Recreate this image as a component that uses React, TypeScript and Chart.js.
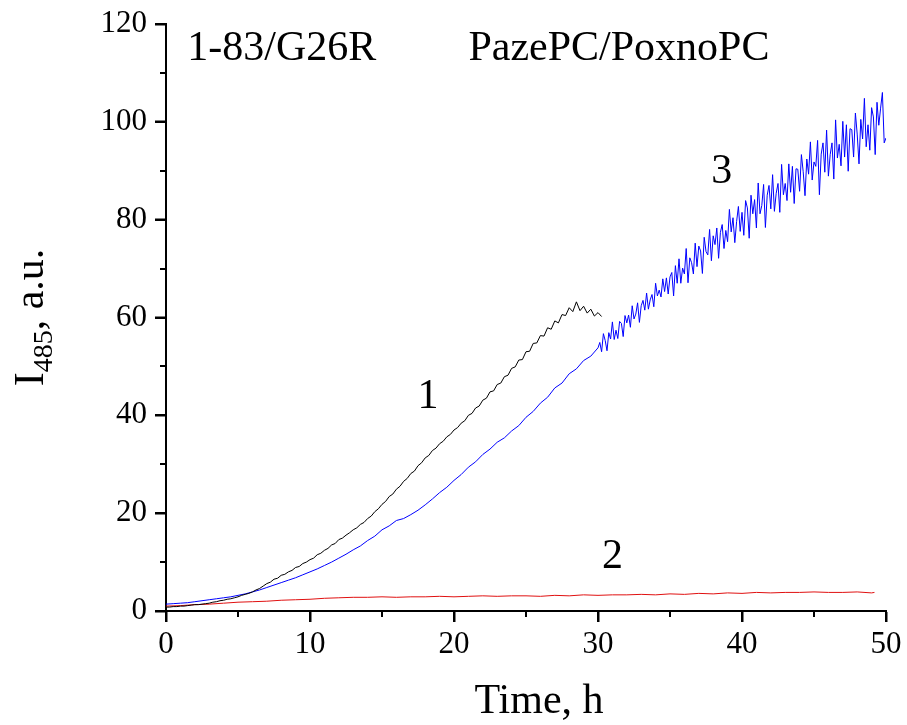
import React, { useEffect, useRef } from "react";
import { Chart, registerables } from "chart.js";

Chart.register(...registerables);

// Curve 1 (black)
const time1 = [
  0, 0.25, 0.5, 0.75, 1, 1.25, 1.5, 1.75, 2, 2.25, 2.5, 2.75, 3, 3.25, 3.5, 3.75, 4, 4.25, 4.5, 4.75,
  5, 5.25, 5.5, 5.75, 6, 6.25, 6.5, 6.75, 7, 7.25, 7.5, 7.75, 8, 8.25, 8.5, 8.75, 9, 9.25, 9.5, 9.75,
  10, 10.25, 10.5, 10.75, 11, 11.25, 11.5, 11.75, 12, 12.25, 12.5, 12.75, 13, 13.25, 13.5, 13.75,
  14, 14.25, 14.5, 14.75, 15, 15.25, 15.5, 15.75, 16, 16.25, 16.5, 16.75, 17, 17.25, 17.5, 17.75,
  18, 18.25, 18.5, 18.75, 19, 19.25, 19.5, 19.75, 20, 20.25, 20.5, 20.75, 21, 21.25, 21.5, 21.75,
  22, 22.25, 22.5, 22.75, 23, 23.25, 23.5, 23.75, 24, 24.25, 24.5, 24.75, 25, 25.25, 25.5, 25.75,
  26, 26.25, 26.5, 26.75, 27, 27.25, 27.5, 27.75, 28, 28.25, 28.5, 28.75, 29, 29.25, 29.5, 29.75,
  30, 30.25,
];
const values1 = [
  0.8, 0.8, 0.9, 0.9, 1.0, 1.0, 1.1, 1.2, 1.3, 1.3, 1.4, 1.5, 1.6, 1.8, 1.9, 2.1, 2.2, 2.4, 2.5, 2.7,
  2.9, 3.2, 3.4, 3.6, 3.9, 4.3, 4.6, 5.1, 5.6, 5.9, 6.5, 6.7, 7.3, 7.5, 8.0, 8.3, 8.9, 9.1, 9.7, 10.0,
  10.5, 10.8, 11.5, 11.8, 12.4, 12.8, 13.5, 13.8, 14.6, 14.9, 15.5, 16.0, 16.6, 17.0, 17.7, 18.1,
  18.9, 19.4, 20.3, 20.9, 21.8, 22.4, 23.4, 23.9, 24.9, 25.5, 26.5, 27.1, 28.1, 28.6, 29.7, 30.3,
  31.3, 31.8, 32.8, 33.3, 34.2, 34.7, 35.6, 36.1, 37.0, 37.5, 38.4, 38.9, 40.0, 40.4, 41.5, 41.9,
  43.1, 43.5, 44.8, 45.0, 46.3, 46.6, 47.9, 48.2, 49.6, 49.9, 51.3, 51.4, 53.0, 53.1, 54.7, 54.8,
  56.3, 56.2, 57.9, 57.6, 59.3, 58.9, 60.6, 60.4, 62.0, 61.2, 63.2, 61.4, 62.3, 60.9, 61.7, 60.3,
  61.0, 60.2,
];

// Curve 2 (red)
const time2 = [
  0, 1, 2, 3, 4, 5, 6, 7, 8, 9, 10, 11, 12, 13, 14, 15, 16, 17, 18, 19, 20, 21, 22, 23, 24, 25,
  26, 27, 28, 29, 30, 31, 32, 33, 34, 35, 36, 37, 38, 39, 40, 41, 42, 43, 44, 45, 46, 47, 48, 49, 49.2,
];
const values2 = [
  1.0, 1.1, 1.3, 1.4, 1.6, 1.8, 1.9, 2.0, 2.2, 2.3, 2.4, 2.6, 2.7, 2.8, 2.8, 2.9, 2.8, 2.9, 2.9, 3.0,
  2.9, 3.0, 3.1, 3.0, 3.1, 3.1, 3.0, 3.2, 3.1, 3.3, 3.2, 3.3, 3.3, 3.4, 3.3, 3.5, 3.4, 3.6, 3.5, 3.7,
  3.6, 3.8, 3.7, 3.8, 3.8, 3.9, 3.8, 3.8, 3.9, 3.7, 3.8,
];

// Curve 3 (blue): 0–30 h every 0.5 h, 30–50 h every 0.125 h
const time3 = [
  0, 0.5, 1, 1.5, 2, 2.5, 3, 3.5, 4, 4.5, 5, 5.5, 6, 6.5, 7, 7.5, 8, 8.5, 9, 9.5, 10, 10.5, 11, 11.5,
  12, 12.5, 13, 13.5, 14, 14.5, 15, 15.5, 16, 16.5, 17, 17.5, 18, 18.5, 19, 19.5, 20, 20.5, 21, 21.5,
  22, 22.5, 23, 23.5, 24, 24.5, 25, 25.5, 26, 26.5, 27, 27.5, 28, 28.5, 29, 29.5, 30,
  30.125, 30.25, 30.375, 30.5, 30.625, 30.75, 30.875, 31, 31.125, 31.25, 31.375, 31.5, 31.625, 31.75, 31.875, 32,
  32.125, 32.25, 32.375, 32.5, 32.625, 32.75, 32.875, 33, 33.125, 33.25, 33.375, 33.5, 33.625, 33.75, 33.875, 34,
  34.125, 34.25, 34.375, 34.5, 34.625, 34.75, 34.875, 35,
  35.125, 35.25, 35.375, 35.5, 35.625, 35.75, 35.875, 36, 36.125, 36.25, 36.375, 36.5, 36.625, 36.75, 36.875, 37,
  37.125, 37.25, 37.375, 37.5, 37.625, 37.75, 37.875, 38, 38.125, 38.25, 38.375, 38.5, 38.625, 38.75, 38.875, 39,
  39.125, 39.25, 39.375, 39.5, 39.625, 39.75, 39.875, 40,
  40.125, 40.25, 40.375, 40.5, 40.625, 40.75, 40.875, 41, 41.125, 41.25, 41.375, 41.5, 41.625, 41.75, 41.875, 42,
  42.125, 42.25, 42.375, 42.5, 42.625, 42.75, 42.875, 43, 43.125, 43.25, 43.375, 43.5, 43.625, 43.75, 43.875, 44,
  44.125, 44.25, 44.375, 44.5, 44.625, 44.75, 44.875, 45,
  45.125, 45.25, 45.375, 45.5, 45.625, 45.75, 45.875, 46, 46.125, 46.25, 46.375, 46.5, 46.625, 46.75, 46.875, 47,
  47.125, 47.25, 47.375, 47.5, 47.625, 47.75, 47.875, 48, 48.125, 48.25, 48.375, 48.5, 48.625, 48.75, 48.875, 49,
  49.125, 49.25, 49.375, 49.5, 49.625, 49.75, 49.875, 50,
];
const values3 = [
  1.4, 1.5, 1.6, 1.7, 1.9, 2.1, 2.3, 2.5, 2.7, 2.9, 3.2, 3.5, 3.9, 4.3, 4.8, 5.3, 5.8, 6.3, 6.8, 7.4,
  8.0, 8.6, 9.3, 10.0, 10.8, 11.6, 12.5, 13.3, 14.4, 15.3, 16.6, 17.4, 18.5, 18.9, 19.7, 20.6, 21.7,
  22.9, 24.2, 25.3, 26.7, 27.9, 29.4, 30.5, 32.0, 33.1, 34.5, 35.4, 36.8, 37.9, 39.6, 40.8, 42.5,
  43.7, 45.6, 46.6, 48.5, 49.5, 51.2, 52.1, 53.8,
  54.9, 53.0, 56.7, 55.3, 53.2, 56.9, 55.6, 59.1, 55.5, 57.4, 55.7, 59.2, 58.8, 56.1, 60.4, 58.9,
  60.5, 58.0, 62.4, 59.7, 60.7, 63.0, 59.0, 62.4, 63.5, 61.5, 65.0, 61.7, 63.6, 64.7, 62.2, 67.0,
  64.4, 65.6, 64.2, 67.9, 65.3, 68.1, 64.8, 68.3,
  69.2, 64.4, 70.6, 67.0, 72.0, 67.0, 70.1, 68.9, 74.1, 67.1, 72.2, 71.2, 68.9, 75.2, 70.4, 74.6,
  73.6, 69.0, 76.4, 73.5, 72.8, 78.0, 71.6, 76.7, 74.9, 78.3, 72.1, 77.4, 79.0, 74.1, 77.8, 75.5,
  82.1, 77.5, 80.4, 75.3, 79.6, 82.7, 77.6, 81.5,
  76.8, 83.9, 82.4, 76.2, 85.0, 81.2, 84.1, 78.3, 87.5, 81.2, 82.9, 87.2, 78.4, 85.0, 87.0, 82.2,
  89.2, 81.7, 85.4, 87.4, 81.5, 91.3, 85.1, 87.4, 83.9, 91.4, 85.6, 90.9, 83.3, 90.4, 90.3, 85.8,
  93.3, 89.8, 84.9, 92.4, 89.3, 95.9, 88.1, 91.8,
  90.9, 96.2, 85.1, 93.4, 95.7, 89.7, 98.3, 88.9, 93.3, 95.7, 88.3, 100.4, 92.6, 95.4, 91.0, 100.1,
  92.8, 99.4, 89.9, 98.6, 98.4, 92.8, 101.8, 97.5, 91.4, 100.5, 96.5, 104.8, 94.9, 99.4, 94.2, 102.9,
  101.0, 93.3, 104.0, 99.3, 102.8, 106.0, 95.7, 96.7,
];

const xTickValues = [0, 10, 20, 30, 40, 50];
const yTickValues = [0, 20, 40, 60, 80, 100, 120];
const xMinorTicks = [5, 15, 25, 35, 45];
const yMinorTicks = [10, 30, 50, 70, 90, 110];

const xTitle = "Time, h";
const yTitleMain = "I";
const yTitleSub = "485";
const yTitleRest = ", a.u.";

// Text notes: [text, x (h), y (a.u.), align]
const notes: [string, number, number, CanvasTextAlign][] = [
  ["1-83/G26R", 1.48, 112.6, "left"],
  ["PazePC/PoxnoPC", 21.0, 112.6, "left"],
  ["1", 18.2, 41.5, "center"],
  ["2", 31.0, 8.8, "center"],
  ["3", 38.6, 87.5, "center"],
];

const SERIF = "'Liberation Serif', 'Times New Roman', 'DejaVu Serif', serif";

const zip = (xs: number[], ys: number[]) => xs.map((x, i) => ({ x, y: ys[i] }));

export default function App() {
  const ref = useRef<HTMLCanvasElement | null>(null);

  useEffect(() => {
    if (!ref.current) return;

    const decor = {
      id: "decor",
      afterDraw(chart: any) {
        const ctx = chart.ctx as CanvasRenderingContext2D;
        const xs = chart.scales.x;
        const ys = chart.scales.y;
        const area = chart.chartArea;
        ctx.save();
        // major + minor ticks
        ctx.strokeStyle = "#000";
        ctx.lineWidth = 2;
        ctx.beginPath();
        for (const v of xTickValues) {
          const px = Math.round(xs.getPixelForValue(v));
          ctx.moveTo(px, area.bottom);
          ctx.lineTo(px, area.bottom + 11);
        }
        for (const v of yTickValues) {
          const py = Math.round(ys.getPixelForValue(v));
          ctx.moveTo(area.left, py);
          ctx.lineTo(area.left - 11, py);
        }
        for (const v of xMinorTicks) {
          const px = Math.round(xs.getPixelForValue(v));
          ctx.moveTo(px, area.bottom);
          ctx.lineTo(px, area.bottom + 6);
        }
        for (const v of yMinorTicks) {
          const py = Math.round(ys.getPixelForValue(v));
          ctx.moveTo(area.left, py);
          ctx.lineTo(area.left - 6, py);
        }
        ctx.stroke();

        ctx.fillStyle = "#000";
        // notes
        ctx.font = `42px ${SERIF}`;
        ctx.textBaseline = "alphabetic";
        for (const [t, x, y, align] of notes) {
          ctx.textAlign = align;
          ctx.fillText(t, xs.getPixelForValue(x), ys.getPixelForValue(y));
        }

        // x title
        ctx.textAlign = "center";
        ctx.font = `42px ${SERIF}`;
        ctx.fillText(xTitle, 539, 713);

        // y title with subscript
        ctx.textAlign = "left";
        ctx.font = `42px ${SERIF}`;
        const wI = ctx.measureText(yTitleMain).width;
        const wR = ctx.measureText(yTitleRest).width;
        ctx.font = `28px ${SERIF}`;
        const wS = ctx.measureText(yTitleSub).width;
        const W = wI + wS + wR;
        const cy = (area.top + area.bottom) / 2;
        ctx.translate(43, cy);
        ctx.rotate(-Math.PI / 2);
        let x0 = -W / 2;
        ctx.font = `42px ${SERIF}`;
        ctx.fillText(yTitleMain, x0, 0);
        x0 += wI;
        ctx.font = `28px ${SERIF}`;
        ctx.fillText(yTitleSub, x0, 9);
        x0 += wS;
        ctx.font = `42px ${SERIF}`;
        ctx.fillText(yTitleRest, x0, 0);
        ctx.restore();
      },
    };

    const chart = new Chart(ref.current, {
      type: "line",
      data: {
        datasets: [
          { label: "1", data: zip(time1, values1), borderColor: "#000000", borderWidth: 1, pointRadius: 0, fill: false, tension: 0 },
          { label: "2", data: zip(time2, values2), borderColor: "#e01010", borderWidth: 1, pointRadius: 0, fill: false, tension: 0 },
          { label: "3", data: zip(time3, values3), borderColor: "#0000ff", borderWidth: 1, pointRadius: 0, fill: false, tension: 0 },
        ],
      },
      options: {
        responsive: false,
        animation: false,
        devicePixelRatio: 1,
        layout: { padding: { top: 24, right: 21, left: 0, bottom: 0 } },
        plugins: { legend: { display: false }, tooltip: { enabled: false }, title: { display: false } },
        scales: {
          x: {
            type: "linear",
            min: 0,
            max: 50,
            afterFit: (s: any) => {
              s.height = 114;
              s.paddingLeft = 0;
              s.paddingRight = 0;
            },
            afterBuildTicks: (s: any) => {
              s.ticks = xTickValues.map((v) => ({ value: v }));
            },
            ticks: {
              color: "#000",
              font: { family: SERIF, size: 31 },
              padding: 4,
              maxRotation: 0,
              autoSkip: false,
            },
            grid: { display: true, drawOnChartArea: false, drawTicks: true, tickLength: 11, tickWidth: 2, tickColor: "#000" },
            border: { display: true, color: "#000", width: 2 },
          },
          y: {
            type: "linear",
            min: 0,
            max: 120,
            afterFit: (s: any) => {
              s.width = 166;
              s.paddingTop = 0;
              s.paddingBottom = 0;
            },
            afterBuildTicks: (s: any) => {
              s.ticks = yTickValues.map((v) => ({ value: v }));
            },
            ticks: {
              color: "#000",
              font: { family: SERIF, size: 31 },
              padding: 8,
              autoSkip: false,
            },
            grid: { display: true, drawOnChartArea: false, drawTicks: true, tickLength: 11, tickWidth: 2, tickColor: "#000" },
            border: { display: true, color: "#000", width: 2 },
          },
        },
      },
      plugins: [decor],
    } as any);

    return () => chart.destroy();
  }, []);

  return (
    <div style={{ position: "absolute", left: 0, top: 0, width: 907, height: 725, background: "#fff" }}>
      <canvas ref={ref} width={907} height={725} style={{ width: 907, height: 725, display: "block" }} />
    </div>
  );
}
